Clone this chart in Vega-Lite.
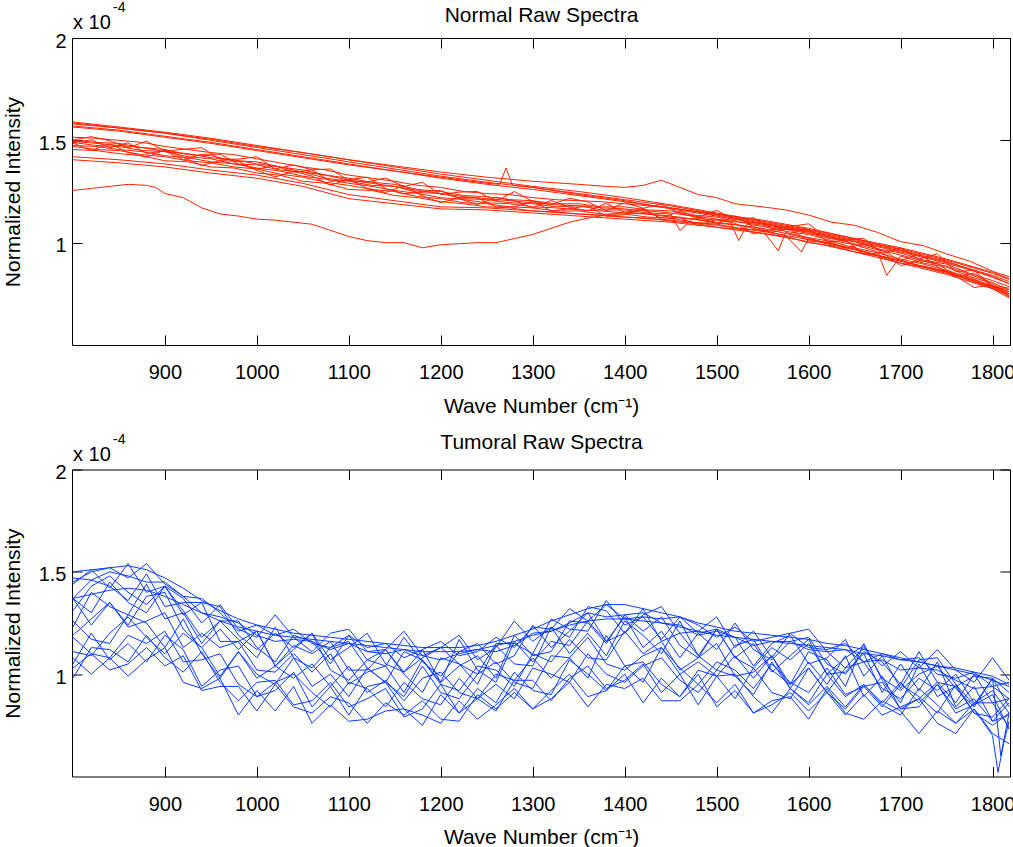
{
"$schema":"https://vega.github.io/schema/vega-lite/v6.json",
"padding":{"left":2,"top":1,"right":4,"bottom":2},
"spacing":15.5,
"config":{"font":"Liberation Sans","view":{"stroke":null},
"axis":{"labelFont":"Liberation Sans","labelFontSize":20,"labelColor":"#000","titleFont":"Liberation Sans","titleFontSize":21,"titleFontWeight":"normal","titleColor":"#000","domainColor":"#000","tickColor":"#000","grid":false,"tickSize":-10,"labelFlush":false,"labelOverlap":false},
"text":{"font":"Liberation Sans","color":"#000"}},
"datasets":{
"normal":[
{"s":"U1","x":800,"y":1.59},{"s":"U1","x":850,"y":1.565},{"s":"U1","x":900,"y":1.54},{"s":"U1","x":950,"y":1.51},{"s":"U1","x":1000,"y":1.475},{"s":"U1","x":1050,"y":1.44},{"s":"U1","x":1100,"y":1.405},{"s":"U1","x":1150,"y":1.37},{"s":"U1","x":1200,"y":1.335},{"s":"U1","x":1250,"y":1.305},{"s":"U1","x":1300,"y":1.275},{"s":"U1","x":1350,"y":1.25},{"s":"U1","x":1400,"y":1.22},{"s":"U1","x":1450,"y":1.185},{"s":"U1","x":1500,"y":1.145},{"s":"U1","x":1550,"y":1.105},{"s":"U1","x":1600,"y":1.065},{"s":"U1","x":1650,"y":1.02},{"s":"U1","x":1700,"y":0.975},{"s":"U1","x":1750,"y":0.92},{"s":"U1","x":1800,"y":0.855},{"s":"U1","x":1818,"y":0.825},
{"s":"U2","x":800,"y":1.58},{"s":"U2","x":850,"y":1.56},{"s":"U2","x":900,"y":1.535},{"s":"U2","x":950,"y":1.5},{"s":"U2","x":1000,"y":1.465},{"s":"U2","x":1050,"y":1.43},{"s":"U2","x":1100,"y":1.395},{"s":"U2","x":1150,"y":1.36},{"s":"U2","x":1200,"y":1.325},{"s":"U2","x":1250,"y":1.295},{"s":"U2","x":1300,"y":1.27},{"s":"U2","x":1350,"y":1.24},{"s":"U2","x":1400,"y":1.21},{"s":"U2","x":1450,"y":1.18},{"s":"U2","x":1500,"y":1.14},{"s":"U2","x":1550,"y":1.1},{"s":"U2","x":1600,"y":1.06},{"s":"U2","x":1650,"y":1.015},{"s":"U2","x":1700,"y":0.97},{"s":"U2","x":1750,"y":0.915},{"s":"U2","x":1800,"y":0.85},{"s":"U2","x":1818,"y":0.82},
{"s":"U3","x":800,"y":1.57},{"s":"U3","x":850,"y":1.55},{"s":"U3","x":900,"y":1.52},{"s":"U3","x":950,"y":1.49},{"s":"U3","x":1000,"y":1.455},{"s":"U3","x":1050,"y":1.42},{"s":"U3","x":1100,"y":1.385},{"s":"U3","x":1150,"y":1.35},{"s":"U3","x":1200,"y":1.315},{"s":"U3","x":1250,"y":1.285},{"s":"U3","x":1300,"y":1.26},{"s":"U3","x":1350,"y":1.23},{"s":"U3","x":1400,"y":1.2},{"s":"U3","x":1450,"y":1.17},{"s":"U3","x":1500,"y":1.135},{"s":"U3","x":1550,"y":1.095},{"s":"U3","x":1600,"y":1.055},{"s":"U3","x":1650,"y":1.01},{"s":"U3","x":1700,"y":0.96},{"s":"U3","x":1750,"y":0.905},{"s":"U3","x":1800,"y":0.84},{"s":"U3","x":1818,"y":0.81},
{"s":"U4","x":800,"y":1.565},{"s":"U4","x":850,"y":1.545},{"s":"U4","x":900,"y":1.515},{"s":"U4","x":950,"y":1.485},{"s":"U4","x":1000,"y":1.45},{"s":"U4","x":1050,"y":1.415},{"s":"U4","x":1100,"y":1.38},{"s":"U4","x":1150,"y":1.35},{"s":"U4","x":1200,"y":1.32},{"s":"U4","x":1250,"y":1.29},{"s":"U4","x":1264,"y":1.285},{"s":"U4","x":1271,"y":1.365},{"s":"U4","x":1278,"y":1.28},{"s":"U4","x":1300,"y":1.27},{"s":"U4","x":1350,"y":1.235},{"s":"U4","x":1400,"y":1.205},{"s":"U4","x":1450,"y":1.165},{"s":"U4","x":1500,"y":1.13},{"s":"U4","x":1550,"y":1.09},{"s":"U4","x":1600,"y":1.05},{"s":"U4","x":1650,"y":1.005},{"s":"U4","x":1700,"y":0.955},{"s":"U4","x":1750,"y":0.9},{"s":"U4","x":1800,"y":0.835},{"s":"U4","x":1818,"y":0.8},
{"s":"U5","x":800,"y":1.585},{"s":"U5","x":850,"y":1.56},{"s":"U5","x":900,"y":1.535},{"s":"U5","x":950,"y":1.505},{"s":"U5","x":1000,"y":1.47},{"s":"U5","x":1050,"y":1.44},{"s":"U5","x":1100,"y":1.405},{"s":"U5","x":1150,"y":1.375},{"s":"U5","x":1200,"y":1.345},{"s":"U5","x":1250,"y":1.32},{"s":"U5","x":1300,"y":1.3},{"s":"U5","x":1350,"y":1.285},{"s":"U5","x":1380,"y":1.275},{"s":"U5","x":1400,"y":1.27},{"s":"U5","x":1420,"y":1.28},{"s":"U5","x":1440,"y":1.305},{"s":"U5","x":1460,"y":1.27},{"s":"U5","x":1480,"y":1.235},{"s":"U5","x":1500,"y":1.22},{"s":"U5","x":1520,"y":1.19},{"s":"U5","x":1550,"y":1.175},{"s":"U5","x":1575,"y":1.16},{"s":"U5","x":1600,"y":1.135},{"s":"U5","x":1625,"y":1.1},{"s":"U5","x":1650,"y":1.085},{"s":"U5","x":1675,"y":1.05},{"s":"U5","x":1700,"y":1.005},{"s":"U5","x":1725,"y":0.985},{"s":"U5","x":1750,"y":0.945},{"s":"U5","x":1775,"y":0.91},{"s":"U5","x":1800,"y":0.86},{"s":"U5","x":1818,"y":0.834},
{"s":"B1","x":800,"y":1.515},{"s":"B1","x":825,"y":1.51},{"s":"B1","x":850,"y":1.5},{"s":"B1","x":875,"y":1.49},{"s":"B1","x":900,"y":1.47},{"s":"B1","x":925,"y":1.455},{"s":"B1","x":950,"y":1.44},{"s":"B1","x":975,"y":1.43},{"s":"B1","x":1000,"y":1.41},{"s":"B1","x":1025,"y":1.39},{"s":"B1","x":1050,"y":1.37},{"s":"B1","x":1075,"y":1.355},{"s":"B1","x":1100,"y":1.33},{"s":"B1","x":1125,"y":1.315},{"s":"B1","x":1150,"y":1.3},{"s":"B1","x":1175,"y":1.28},{"s":"B1","x":1200,"y":1.27},{"s":"B1","x":1225,"y":1.25},{"s":"B1","x":1250,"y":1.24},{"s":"B1","x":1275,"y":1.235},{"s":"B1","x":1300,"y":1.22},{"s":"B1","x":1325,"y":1.21},{"s":"B1","x":1350,"y":1.205},{"s":"B1","x":1375,"y":1.2},{"s":"B1","x":1400,"y":1.19},{"s":"B1","x":1425,"y":1.18},{"s":"B1","x":1450,"y":1.17},{"s":"B1","x":1475,"y":1.155},{"s":"B1","x":1500,"y":1.14},{"s":"B1","x":1525,"y":1.125},{"s":"B1","x":1550,"y":1.11},{"s":"B1","x":1575,"y":1.09},{"s":"B1","x":1600,"y":1.07},{"s":"B1","x":1625,"y":1.045},{"s":"B1","x":1650,"y":1.02},{"s":"B1","x":1675,"y":0.99},{"s":"B1","x":1700,"y":0.965},{"s":"B1","x":1725,"y":0.935},{"s":"B1","x":1750,"y":0.91},{"s":"B1","x":1775,"y":0.87},{"s":"B1","x":1800,"y":0.83},{"s":"B1","x":1818,"y":0.8},
{"s":"B2","x":800,"y":1.5},{"s":"B2","x":825,"y":1.49},{"s":"B2","x":850,"y":1.485},{"s":"B2","x":875,"y":1.465},{"s":"B2","x":900,"y":1.455},{"s":"B2","x":925,"y":1.43},{"s":"B2","x":950,"y":1.425},{"s":"B2","x":975,"y":1.4},{"s":"B2","x":1000,"y":1.395},{"s":"B2","x":1025,"y":1.37},{"s":"B2","x":1050,"y":1.355},{"s":"B2","x":1075,"y":1.33},{"s":"B2","x":1100,"y":1.315},{"s":"B2","x":1125,"y":1.295},{"s":"B2","x":1150,"y":1.285},{"s":"B2","x":1175,"y":1.26},{"s":"B2","x":1200,"y":1.25},{"s":"B2","x":1225,"y":1.23},{"s":"B2","x":1250,"y":1.225},{"s":"B2","x":1275,"y":1.21},{"s":"B2","x":1300,"y":1.205},{"s":"B2","x":1325,"y":1.19},{"s":"B2","x":1350,"y":1.19},{"s":"B2","x":1375,"y":1.175},{"s":"B2","x":1400,"y":1.175},{"s":"B2","x":1425,"y":1.16},{"s":"B2","x":1450,"y":1.155},{"s":"B2","x":1475,"y":1.135},{"s":"B2","x":1500,"y":1.125},{"s":"B2","x":1525,"y":1.1},{"s":"B2","x":1550,"y":1.095},{"s":"B2","x":1575,"y":1.07},{"s":"B2","x":1600,"y":1.055},{"s":"B2","x":1625,"y":1.025},{"s":"B2","x":1650,"y":1.005},{"s":"B2","x":1675,"y":0.97},{"s":"B2","x":1700,"y":0.95},{"s":"B2","x":1725,"y":0.915},{"s":"B2","x":1750,"y":0.895},{"s":"B2","x":1775,"y":0.85},{"s":"B2","x":1800,"y":0.815},{"s":"B2","x":1818,"y":0.785},
{"s":"B3","x":800,"y":1.49},{"s":"B3","x":825,"y":1.475},{"s":"B3","x":850,"y":1.47},{"s":"B3","x":875,"y":1.45},{"s":"B3","x":900,"y":1.445},{"s":"B3","x":925,"y":1.42},{"s":"B3","x":950,"y":1.41},{"s":"B3","x":975,"y":1.385},{"s":"B3","x":1000,"y":1.38},{"s":"B3","x":1025,"y":1.355},{"s":"B3","x":1050,"y":1.345},{"s":"B3","x":1075,"y":1.315},{"s":"B3","x":1100,"y":1.3},{"s":"B3","x":1125,"y":1.28},{"s":"B3","x":1150,"y":1.275},{"s":"B3","x":1175,"y":1.245},{"s":"B3","x":1200,"y":1.24},{"s":"B3","x":1225,"y":1.215},{"s":"B3","x":1250,"y":1.21},{"s":"B3","x":1275,"y":1.195},{"s":"B3","x":1300,"y":1.19},{"s":"B3","x":1325,"y":1.175},{"s":"B3","x":1350,"y":1.18},{"s":"B3","x":1375,"y":1.16},{"s":"B3","x":1400,"y":1.16},{"s":"B3","x":1425,"y":1.145},{"s":"B3","x":1450,"y":1.14},{"s":"B3","x":1460,"y":1.06},{"s":"B3","x":1475,"y":1.12},{"s":"B3","x":1500,"y":1.11},{"s":"B3","x":1515,"y":1.1},{"s":"B3","x":1524,"y":1.01},{"s":"B3","x":1533,"y":1.09},{"s":"B3","x":1550,"y":1.08},{"s":"B3","x":1575,"y":1.055},{"s":"B3","x":1600,"y":1.04},{"s":"B3","x":1625,"y":1.01},{"s":"B3","x":1650,"y":0.99},{"s":"B3","x":1675,"y":0.955},{"s":"B3","x":1685,"y":0.84},{"s":"B3","x":1700,"y":0.935},{"s":"B3","x":1725,"y":0.9},{"s":"B3","x":1750,"y":0.88},{"s":"B3","x":1775,"y":0.835},{"s":"B3","x":1800,"y":0.8},{"s":"B3","x":1818,"y":0.75},
{"s":"B4","x":800,"y":1.475},{"s":"B4","x":825,"y":1.47},{"s":"B4","x":850,"y":1.455},{"s":"B4","x":875,"y":1.445},{"s":"B4","x":900,"y":1.425},{"s":"B4","x":925,"y":1.415},{"s":"B4","x":950,"y":1.395},{"s":"B4","x":975,"y":1.385},{"s":"B4","x":1000,"y":1.365},{"s":"B4","x":1025,"y":1.35},{"s":"B4","x":1050,"y":1.325},{"s":"B4","x":1075,"y":1.31},{"s":"B4","x":1100,"y":1.29},{"s":"B4","x":1125,"y":1.275},{"s":"B4","x":1150,"y":1.255},{"s":"B4","x":1175,"y":1.24},{"s":"B4","x":1200,"y":1.22},{"s":"B4","x":1225,"y":1.21},{"s":"B4","x":1250,"y":1.195},{"s":"B4","x":1275,"y":1.19},{"s":"B4","x":1300,"y":1.175},{"s":"B4","x":1325,"y":1.17},{"s":"B4","x":1350,"y":1.16},{"s":"B4","x":1375,"y":1.155},{"s":"B4","x":1400,"y":1.145},{"s":"B4","x":1425,"y":1.14},{"s":"B4","x":1450,"y":1.125},{"s":"B4","x":1475,"y":1.115},{"s":"B4","x":1500,"y":1.095},{"s":"B4","x":1525,"y":1.085},{"s":"B4","x":1550,"y":1.06},{"s":"B4","x":1567,"y":0.96},{"s":"B4","x":1575,"y":1.05},{"s":"B4","x":1600,"y":1.025},{"s":"B4","x":1625,"y":1.005},{"s":"B4","x":1650,"y":0.975},{"s":"B4","x":1675,"y":0.95},{"s":"B4","x":1700,"y":0.92},{"s":"B4","x":1725,"y":0.895},{"s":"B4","x":1750,"y":0.865},{"s":"B4","x":1775,"y":0.83},{"s":"B4","x":1800,"y":0.785},{"s":"B4","x":1818,"y":0.76},
{"s":"B5","x":800,"y":1.47},{"s":"B5","x":825,"y":1.455},{"s":"B5","x":850,"y":1.45},{"s":"B5","x":875,"y":1.43},{"s":"B5","x":900,"y":1.42},{"s":"B5","x":925,"y":1.4},{"s":"B5","x":950,"y":1.39},{"s":"B5","x":975,"y":1.37},{"s":"B5","x":1000,"y":1.36},{"s":"B5","x":1025,"y":1.335},{"s":"B5","x":1050,"y":1.32},{"s":"B5","x":1075,"y":1.295},{"s":"B5","x":1100,"y":1.28},{"s":"B5","x":1125,"y":1.26},{"s":"B5","x":1150,"y":1.25},{"s":"B5","x":1175,"y":1.225},{"s":"B5","x":1200,"y":1.215},{"s":"B5","x":1225,"y":1.195},{"s":"B5","x":1250,"y":1.19},{"s":"B5","x":1275,"y":1.175},{"s":"B5","x":1300,"y":1.17},{"s":"B5","x":1325,"y":1.155},{"s":"B5","x":1350,"y":1.155},{"s":"B5","x":1375,"y":1.14},{"s":"B5","x":1400,"y":1.14},{"s":"B5","x":1425,"y":1.125},{"s":"B5","x":1450,"y":1.12},{"s":"B5","x":1475,"y":1.1},{"s":"B5","x":1500,"y":1.09},{"s":"B5","x":1525,"y":1.07},{"s":"B5","x":1550,"y":1.06},{"s":"B5","x":1575,"y":1.035},{"s":"B5","x":1592,"y":0.955},{"s":"B5","x":1600,"y":1.02},{"s":"B5","x":1625,"y":0.99},{"s":"B5","x":1650,"y":0.97},{"s":"B5","x":1675,"y":0.935},{"s":"B5","x":1700,"y":0.915},{"s":"B5","x":1725,"y":0.88},{"s":"B5","x":1750,"y":0.86},{"s":"B5","x":1775,"y":0.815},{"s":"B5","x":1800,"y":0.78},{"s":"B5","x":1818,"y":0.745},
{"s":"B6","x":800,"y":1.455},{"s":"B6","x":825,"y":1.45},{"s":"B6","x":850,"y":1.435},{"s":"B6","x":875,"y":1.425},{"s":"B6","x":900,"y":1.4},{"s":"B6","x":925,"y":1.395},{"s":"B6","x":950,"y":1.37},{"s":"B6","x":975,"y":1.365},{"s":"B6","x":1000,"y":1.34},{"s":"B6","x":1025,"y":1.33},{"s":"B6","x":1050,"y":1.3},{"s":"B6","x":1075,"y":1.29},{"s":"B6","x":1100,"y":1.26},{"s":"B6","x":1125,"y":1.255},{"s":"B6","x":1150,"y":1.23},{"s":"B6","x":1175,"y":1.22},{"s":"B6","x":1200,"y":1.2},{"s":"B6","x":1225,"y":1.19},{"s":"B6","x":1250,"y":1.175},{"s":"B6","x":1275,"y":1.17},{"s":"B6","x":1300,"y":1.155},{"s":"B6","x":1325,"y":1.15},{"s":"B6","x":1350,"y":1.14},{"s":"B6","x":1375,"y":1.135},{"s":"B6","x":1400,"y":1.125},{"s":"B6","x":1425,"y":1.12},{"s":"B6","x":1450,"y":1.105},{"s":"B6","x":1475,"y":1.095},{"s":"B6","x":1500,"y":1.075},{"s":"B6","x":1525,"y":1.065},{"s":"B6","x":1550,"y":1.045},{"s":"B6","x":1575,"y":1.03},{"s":"B6","x":1600,"y":1.0},{"s":"B6","x":1625,"y":0.985},{"s":"B6","x":1650,"y":0.955},{"s":"B6","x":1675,"y":0.935},{"s":"B6","x":1700,"y":0.9},{"s":"B6","x":1725,"y":0.88},{"s":"B6","x":1750,"y":0.85},{"s":"B6","x":1775,"y":0.82},{"s":"B6","x":1800,"y":0.775},{"s":"B6","x":1818,"y":0.73},
{"s":"B7","x":800,"y":1.495},{"s":"B7","x":825,"y":1.485},{"s":"B7","x":850,"y":1.475},{"s":"B7","x":875,"y":1.465},{"s":"B7","x":900,"y":1.445},{"s":"B7","x":925,"y":1.435},{"s":"B7","x":950,"y":1.415},{"s":"B7","x":975,"y":1.405},{"s":"B7","x":1000,"y":1.385},{"s":"B7","x":1025,"y":1.37},{"s":"B7","x":1050,"y":1.345},{"s":"B7","x":1075,"y":1.33},{"s":"B7","x":1100,"y":1.305},{"s":"B7","x":1125,"y":1.29},{"s":"B7","x":1150,"y":1.275},{"s":"B7","x":1175,"y":1.255},{"s":"B7","x":1200,"y":1.24},{"s":"B7","x":1225,"y":1.225},{"s":"B7","x":1250,"y":1.215},{"s":"B7","x":1275,"y":1.205},{"s":"B7","x":1300,"y":1.195},{"s":"B7","x":1325,"y":1.185},{"s":"B7","x":1350,"y":1.18},{"s":"B7","x":1375,"y":1.17},{"s":"B7","x":1400,"y":1.165},{"s":"B7","x":1425,"y":1.155},{"s":"B7","x":1450,"y":1.145},{"s":"B7","x":1475,"y":1.13},{"s":"B7","x":1500,"y":1.115},{"s":"B7","x":1525,"y":1.1},{"s":"B7","x":1550,"y":1.085},{"s":"B7","x":1575,"y":1.065},{"s":"B7","x":1600,"y":1.045},{"s":"B7","x":1625,"y":1.02},{"s":"B7","x":1650,"y":0.995},{"s":"B7","x":1675,"y":0.965},{"s":"B7","x":1700,"y":0.94},{"s":"B7","x":1725,"y":0.91},{"s":"B7","x":1750,"y":0.885},{"s":"B7","x":1775,"y":0.845},{"s":"B7","x":1800,"y":0.805},{"s":"B7","x":1818,"y":0.77},
{"s":"B8","x":800,"y":1.49},{"s":"B8","x":820,"y":1.502},{"s":"B8","x":840,"y":1.464},{"s":"B8","x":860,"y":1.488},{"s":"B8","x":880,"y":1.436},{"s":"B8","x":900,"y":1.448},{"s":"B8","x":920,"y":1.404},{"s":"B8","x":940,"y":1.432},{"s":"B8","x":960,"y":1.432},{"s":"B8","x":980,"y":1.384},{"s":"B8","x":1000,"y":1.36},{"s":"B8","x":1020,"y":1.376},{"s":"B8","x":1040,"y":1.344},{"s":"B8","x":1060,"y":1.356},{"s":"B8","x":1080,"y":1.3},{"s":"B8","x":1100,"y":1.308},{"s":"B8","x":1120,"y":1.32},{"s":"B8","x":1140,"y":1.264},{"s":"B8","x":1160,"y":1.238},{"s":"B8","x":1180,"y":1.251},{"s":"B8","x":1200,"y":1.255},{"s":"B8","x":1220,"y":1.215},{"s":"B8","x":1240,"y":1.186},{"s":"B8","x":1260,"y":1.222},{"s":"B8","x":1280,"y":1.206},{"s":"B8","x":1300,"y":1.17},{"s":"B8","x":1320,"y":1.206},{"s":"B8","x":1340,"y":1.173},{"s":"B8","x":1360,"y":1.155},{"s":"B8","x":1380,"y":1.192},{"s":"B8","x":1400,"y":1.148},{"s":"B8","x":1420,"y":1.16},{"s":"B8","x":1440,"y":1.12},{"s":"B8","x":1460,"y":1.154},{"s":"B8","x":1480,"y":1.126},{"s":"B8","x":1500,"y":1.094},{"s":"B8","x":1520,"y":1.13},{"s":"B8","x":1540,"y":1.078},{"s":"B8","x":1560,"y":1.052},{"s":"B8","x":1580,"y":1.068},{"s":"B8","x":1600,"y":1.064},{"s":"B8","x":1620,"y":1.008},{"s":"B8","x":1640,"y":0.972},{"s":"B8","x":1660,"y":0.994},{"s":"B8","x":1680,"y":0.963},{"s":"B8","x":1700,"y":0.911},{"s":"B8","x":1720,"y":0.947},{"s":"B8","x":1740,"y":0.882},{"s":"B8","x":1760,"y":0.832},{"s":"B8","x":1780,"y":0.852},{"s":"B8","x":1800,"y":0.784},{"s":"B8","x":1818,"y":0.77},
{"s":"B9","x":800,"y":1.487},{"s":"B9","x":820,"y":1.451},{"s":"B9","x":840,"y":1.483},{"s":"B9","x":860,"y":1.441},{"s":"B9","x":880,"y":1.417},{"s":"B9","x":900,"y":1.453},{"s":"B9","x":920,"y":1.417},{"s":"B9","x":940,"y":1.377},{"s":"B9","x":960,"y":1.401},{"s":"B9","x":980,"y":1.397},{"s":"B9","x":1000,"y":1.353},{"s":"B9","x":1020,"y":1.321},{"s":"B9","x":1040,"y":1.349},{"s":"B9","x":1060,"y":1.325},{"s":"B9","x":1080,"y":1.281},{"s":"B9","x":1100,"y":1.309},{"s":"B9","x":1120,"y":1.265},{"s":"B9","x":1140,"y":1.245},{"s":"B9","x":1160,"y":1.279},{"s":"B9","x":1180,"y":1.228},{"s":"B9","x":1200,"y":1.196},{"s":"B9","x":1220,"y":1.22},{"s":"B9","x":1240,"y":1.219},{"s":"B9","x":1260,"y":1.175},{"s":"B9","x":1280,"y":1.175},{"s":"B9","x":1300,"y":1.203},{"s":"B9","x":1320,"y":1.155},{"s":"B9","x":1340,"y":1.166},{"s":"B9","x":1360,"y":1.18},{"s":"B9","x":1380,"y":1.129},{"s":"B9","x":1400,"y":1.137},{"s":"B9","x":1420,"y":1.169},{"s":"B9","x":1440,"y":1.113},{"s":"B9","x":1460,"y":1.123},{"s":"B9","x":1480,"y":1.083},{"s":"B9","x":1500,"y":1.115},{"s":"B9","x":1520,"y":1.095},{"s":"B9","x":1540,"y":1.043},{"s":"B9","x":1560,"y":1.065},{"s":"B9","x":1580,"y":1.065},{"s":"B9","x":1600,"y":1.009},{"s":"B9","x":1620,"y":1.001},{"s":"B9","x":1640,"y":1.013},{"s":"B9","x":1660,"y":0.943},{"s":"B9","x":1680,"y":0.952},{"s":"B9","x":1700,"y":0.888},{"s":"B9","x":1720,"y":0.912},{"s":"B9","x":1740,"y":0.899},{"s":"B9","x":1760,"y":0.837},{"s":"B9","x":1780,"y":0.781},{"s":"B9","x":1800,"y":0.793},{"s":"B9","x":1818,"y":0.735},
{"s":"B10","x":800,"y":1.502},{"s":"B10","x":820,"y":1.518},{"s":"B10","x":840,"y":1.498},{"s":"B10","x":860,"y":1.464},{"s":"B10","x":880,"y":1.496},{"s":"B10","x":900,"y":1.448},{"s":"B10","x":920,"y":1.456},{"s":"B10","x":940,"y":1.464},{"s":"B10","x":960,"y":1.408},{"s":"B10","x":980,"y":1.408},{"s":"B10","x":1000,"y":1.42},{"s":"B10","x":1020,"y":1.36},{"s":"B10","x":1040,"y":1.38},{"s":"B10","x":1060,"y":1.356},{"s":"B10","x":1080,"y":1.36},{"s":"B10","x":1100,"y":1.304},{"s":"B10","x":1120,"y":1.296},{"s":"B10","x":1140,"y":1.316},{"s":"B10","x":1160,"y":1.274},{"s":"B10","x":1180,"y":1.295},{"s":"B10","x":1200,"y":1.235},{"s":"B10","x":1220,"y":1.247},{"s":"B10","x":1240,"y":1.25},{"s":"B10","x":1260,"y":1.202},{"s":"B10","x":1280,"y":1.25},{"s":"B10","x":1300,"y":1.202},{"s":"B10","x":1320,"y":1.186},{"s":"B10","x":1340,"y":1.217},{"s":"B10","x":1360,"y":1.199},{"s":"B10","x":1380,"y":1.156},{"s":"B10","x":1400,"y":1.196},{"s":"B10","x":1420,"y":1.168},{"s":"B10","x":1440,"y":1.188},{"s":"B10","x":1460,"y":1.142},{"s":"B10","x":1480,"y":1.122},{"s":"B10","x":1500,"y":1.158},{"s":"B10","x":1520,"y":1.11},{"s":"B10","x":1540,"y":1.122},{"s":"B10","x":1560,"y":1.068},{"s":"B10","x":1580,"y":1.08},{"s":"B10","x":1600,"y":1.092},{"s":"B10","x":1620,"y":1.024},{"s":"B10","x":1640,"y":1.012},{"s":"B10","x":1660,"y":1.022},{"s":"B10","x":1680,"y":0.947},{"s":"B10","x":1700,"y":0.975},{"s":"B10","x":1720,"y":0.919},{"s":"B10","x":1740,"y":0.946},{"s":"B10","x":1760,"y":0.86},{"s":"B10","x":1780,"y":0.864},{"s":"B10","x":1800,"y":0.788},{"s":"B10","x":1818,"y":0.778},
{"s":"L1","x":800,"y":1.42},{"s":"L1","x":850,"y":1.405},{"s":"L1","x":900,"y":1.385},{"s":"L1","x":950,"y":1.355},{"s":"L1","x":1000,"y":1.33},{"s":"L1","x":1050,"y":1.29},{"s":"L1","x":1100,"y":1.235},{"s":"L1","x":1150,"y":1.205},{"s":"L1","x":1200,"y":1.175},{"s":"L1","x":1250,"y":1.17},{"s":"L1","x":1300,"y":1.155},{"s":"L1","x":1350,"y":1.14},{"s":"L1","x":1400,"y":1.125},{"s":"L1","x":1450,"y":1.11},{"s":"L1","x":1500,"y":1.085},{"s":"L1","x":1550,"y":1.055},{"s":"L1","x":1600,"y":1.015},{"s":"L1","x":1650,"y":0.965},{"s":"L1","x":1700,"y":0.91},{"s":"L1","x":1750,"y":0.855},{"s":"L1","x":1800,"y":0.785},{"s":"L1","x":1818,"y":0.75},
{"s":"L2","x":800,"y":1.405},{"s":"L2","x":850,"y":1.39},{"s":"L2","x":900,"y":1.37},{"s":"L2","x":950,"y":1.34},{"s":"L2","x":1000,"y":1.315},{"s":"L2","x":1050,"y":1.275},{"s":"L2","x":1100,"y":1.215},{"s":"L2","x":1150,"y":1.19},{"s":"L2","x":1200,"y":1.165},{"s":"L2","x":1250,"y":1.16},{"s":"L2","x":1300,"y":1.145},{"s":"L2","x":1350,"y":1.13},{"s":"L2","x":1400,"y":1.115},{"s":"L2","x":1450,"y":1.1},{"s":"L2","x":1500,"y":1.075},{"s":"L2","x":1550,"y":1.045},{"s":"L2","x":1600,"y":1.005},{"s":"L2","x":1650,"y":0.955},{"s":"L2","x":1700,"y":0.9},{"s":"L2","x":1750,"y":0.845},{"s":"L2","x":1800,"y":0.775},{"s":"L2","x":1818,"y":0.74},
{"s":"O1","x":800,"y":1.255},{"s":"O1","x":820,"y":1.265},{"s":"O1","x":840,"y":1.275},{"s":"O1","x":860,"y":1.285},{"s":"O1","x":880,"y":1.28},{"s":"O1","x":890,"y":1.27},{"s":"O1","x":900,"y":1.24},{"s":"O1","x":920,"y":1.22},{"s":"O1","x":940,"y":1.17},{"s":"O1","x":960,"y":1.14},{"s":"O1","x":980,"y":1.13},{"s":"O1","x":1000,"y":1.115},{"s":"O1","x":1020,"y":1.11},{"s":"O1","x":1040,"y":1.1},{"s":"O1","x":1060,"y":1.09},{"s":"O1","x":1080,"y":1.06},{"s":"O1","x":1100,"y":1.03},{"s":"O1","x":1120,"y":1.01},{"s":"O1","x":1140,"y":1.0},{"s":"O1","x":1160,"y":1.0},{"s":"O1","x":1180,"y":0.975},{"s":"O1","x":1200,"y":0.99},{"s":"O1","x":1220,"y":0.995},{"s":"O1","x":1240,"y":1.0},{"s":"O1","x":1260,"y":1.0},{"s":"O1","x":1280,"y":1.02},{"s":"O1","x":1300,"y":1.04},{"s":"O1","x":1320,"y":1.07},{"s":"O1","x":1340,"y":1.1},{"s":"O1","x":1360,"y":1.12},{"s":"O1","x":1380,"y":1.135},{"s":"O1","x":1400,"y":1.15},{"s":"O1","x":1450,"y":1.13},{"s":"O1","x":1500,"y":1.1},{"s":"O1","x":1550,"y":1.07},{"s":"O1","x":1600,"y":1.02},{"s":"O1","x":1650,"y":0.97},{"s":"O1","x":1700,"y":0.91},{"s":"O1","x":1750,"y":0.86},{"s":"O1","x":1800,"y":0.79},{"s":"O1","x":1818,"y":0.76}
],
"tumor":[
{"s":"H1","x":800,"y":1.5},{"s":"H1","x":820,"y":1.51},{"s":"H1","x":840,"y":1.52},{"s":"H1","x":860,"y":1.53},{"s":"H1","x":880,"y":1.51},{"s":"H1","x":900,"y":1.47},{"s":"H1","x":920,"y":1.42},{"s":"H1","x":940,"y":1.36},{"s":"H1","x":960,"y":1.31},{"s":"H1","x":980,"y":1.27},{"s":"H1","x":1000,"y":1.24},{"s":"H1","x":1020,"y":1.22},{"s":"H1","x":1040,"y":1.2},{"s":"H1","x":1060,"y":1.19},{"s":"H1","x":1080,"y":1.18},{"s":"H1","x":1100,"y":1.17},{"s":"H1","x":1120,"y":1.16},{"s":"H1","x":1140,"y":1.15},{"s":"H1","x":1160,"y":1.14},{"s":"H1","x":1180,"y":1.13},{"s":"H1","x":1200,"y":1.13},{"s":"H1","x":1220,"y":1.13},{"s":"H1","x":1240,"y":1.14},{"s":"H1","x":1260,"y":1.16},{"s":"H1","x":1280,"y":1.19},{"s":"H1","x":1300,"y":1.22},{"s":"H1","x":1320,"y":1.26},{"s":"H1","x":1340,"y":1.29},{"s":"H1","x":1360,"y":1.32},{"s":"H1","x":1380,"y":1.34},{"s":"H1","x":1400,"y":1.34},{"s":"H1","x":1420,"y":1.32},{"s":"H1","x":1440,"y":1.3},{"s":"H1","x":1460,"y":1.28},{"s":"H1","x":1480,"y":1.25},{"s":"H1","x":1500,"y":1.23},{"s":"H1","x":1520,"y":1.21},{"s":"H1","x":1540,"y":1.2},{"s":"H1","x":1560,"y":1.19},{"s":"H1","x":1580,"y":1.18},{"s":"H1","x":1600,"y":1.17},{"s":"H1","x":1620,"y":1.15},{"s":"H1","x":1640,"y":1.14},{"s":"H1","x":1660,"y":1.12},{"s":"H1","x":1680,"y":1.1},{"s":"H1","x":1700,"y":1.08},{"s":"H1","x":1720,"y":1.06},{"s":"H1","x":1740,"y":1.04},{"s":"H1","x":1760,"y":1.02},{"s":"H1","x":1780,"y":1.0},{"s":"H1","x":1800,"y":0.97},{"s":"H1","x":1818,"y":0.94},
{"s":"H2","x":800,"y":1.47},{"s":"H2","x":820,"y":1.46},{"s":"H2","x":840,"y":1.5},{"s":"H2","x":860,"y":1.48},{"s":"H2","x":880,"y":1.45},{"s":"H2","x":900,"y":1.45},{"s":"H2","x":920,"y":1.38},{"s":"H2","x":940,"y":1.3},{"s":"H2","x":960,"y":1.28},{"s":"H2","x":980,"y":1.25},{"s":"H2","x":1000,"y":1.19},{"s":"H2","x":1020,"y":1.16},{"s":"H2","x":1040,"y":1.17},{"s":"H2","x":1060,"y":1.16},{"s":"H2","x":1080,"y":1.12},{"s":"H2","x":1100,"y":1.15},{"s":"H2","x":1120,"y":1.11},{"s":"H2","x":1140,"y":1.1},{"s":"H2","x":1160,"y":1.12},{"s":"H2","x":1180,"y":1.09},{"s":"H2","x":1200,"y":1.07},{"s":"H2","x":1220,"y":1.1},{"s":"H2","x":1240,"y":1.12},{"s":"H2","x":1260,"y":1.11},{"s":"H2","x":1280,"y":1.14},{"s":"H2","x":1300,"y":1.2},{"s":"H2","x":1320,"y":1.21},{"s":"H2","x":1340,"y":1.25},{"s":"H2","x":1360,"y":1.3},{"s":"H2","x":1380,"y":1.28},{"s":"H2","x":1400,"y":1.29},{"s":"H2","x":1420,"y":1.3},{"s":"H2","x":1440,"y":1.25},{"s":"H2","x":1460,"y":1.24},{"s":"H2","x":1480,"y":1.19},{"s":"H2","x":1500,"y":1.21},{"s":"H2","x":1520,"y":1.18},{"s":"H2","x":1540,"y":1.14},{"s":"H2","x":1560,"y":1.16},{"s":"H2","x":1580,"y":1.16},{"s":"H2","x":1600,"y":1.12},{"s":"H2","x":1620,"y":1.11},{"s":"H2","x":1640,"y":1.12},{"s":"H2","x":1660,"y":1.06},{"s":"H2","x":1680,"y":1.07},{"s":"H2","x":1700,"y":1.02},{"s":"H2","x":1720,"y":1.03},{"s":"H2","x":1740,"y":1.02},{"s":"H2","x":1760,"y":0.97},{"s":"H2","x":1780,"y":0.93},{"s":"H2","x":1800,"y":0.94},{"s":"H2","x":1818,"y":0.88},
{"s":"H3","x":800,"y":1.44},{"s":"H3","x":820,"y":1.51},{"s":"H3","x":840,"y":1.42},{"s":"H3","x":860,"y":1.54},{"s":"H3","x":880,"y":1.4},{"s":"H3","x":900,"y":1.43},{"s":"H3","x":920,"y":1.29},{"s":"H3","x":940,"y":1.35},{"s":"H3","x":960,"y":1.33},{"s":"H3","x":980,"y":1.19},{"s":"H3","x":1000,"y":1.12},{"s":"H3","x":1020,"y":1.2},{"s":"H3","x":1040,"y":1.13},{"s":"H3","x":1060,"y":1.2},{"s":"H3","x":1080,"y":1.07},{"s":"H3","x":1100,"y":1.13},{"s":"H3","x":1120,"y":1.2},{"s":"H3","x":1140,"y":1.05},{"s":"H3","x":1160,"y":1.01},{"s":"H3","x":1180,"y":1.08},{"s":"H3","x":1200,"y":1.13},{"s":"H3","x":1220,"y":1.05},{"s":"H3","x":1240,"y":1.0},{"s":"H3","x":1260,"y":1.15},{"s":"H3","x":1280,"y":1.15},{"s":"H3","x":1300,"y":1.1},{"s":"H3","x":1320,"y":1.27},{"s":"H3","x":1340,"y":1.22},{"s":"H3","x":1360,"y":1.21},{"s":"H3","x":1380,"y":1.36},{"s":"H3","x":1400,"y":1.24},{"s":"H3","x":1420,"y":1.28},{"s":"H3","x":1440,"y":1.17},{"s":"H3","x":1460,"y":1.28},{"s":"H3","x":1480,"y":1.2},{"s":"H3","x":1500,"y":1.12},{"s":"H3","x":1520,"y":1.25},{"s":"H3","x":1540,"y":1.12},{"s":"H3","x":1560,"y":1.07},{"s":"H3","x":1580,"y":1.16},{"s":"H3","x":1600,"y":1.18},{"s":"H3","x":1620,"y":1.05},{"s":"H3","x":1640,"y":1.0},{"s":"H3","x":1660,"y":1.11},{"s":"H3","x":1680,"y":1.06},{"s":"H3","x":1700,"y":0.95},{"s":"H3","x":1720,"y":1.11},{"s":"H3","x":1740,"y":0.96},{"s":"H3","x":1760,"y":0.86},{"s":"H3","x":1780,"y":1.0},{"s":"H3","x":1800,"y":0.86},{"s":"H3","x":1818,"y":0.88},
{"s":"H4","x":800,"y":1.37},{"s":"H4","x":820,"y":1.46},{"s":"H4","x":840,"y":1.43},{"s":"H4","x":860,"y":1.36},{"s":"H4","x":880,"y":1.49},{"s":"H4","x":900,"y":1.33},{"s":"H4","x":920,"y":1.35},{"s":"H4","x":940,"y":1.35},{"s":"H4","x":960,"y":1.16},{"s":"H4","x":980,"y":1.16},{"s":"H4","x":1000,"y":1.21},{"s":"H4","x":1020,"y":1.04},{"s":"H4","x":1040,"y":1.14},{"s":"H4","x":1060,"y":1.1},{"s":"H4","x":1080,"y":1.16},{"s":"H4","x":1100,"y":1.02},{"s":"H4","x":1120,"y":1.02},{"s":"H4","x":1140,"y":1.12},{"s":"H4","x":1160,"y":1.01},{"s":"H4","x":1180,"y":1.12},{"s":"H4","x":1200,"y":0.96},{"s":"H4","x":1220,"y":1.04},{"s":"H4","x":1240,"y":1.09},{"s":"H4","x":1260,"y":0.98},{"s":"H4","x":1280,"y":1.19},{"s":"H4","x":1300,"y":1.09},{"s":"H4","x":1320,"y":1.11},{"s":"H4","x":1340,"y":1.26},{"s":"H4","x":1360,"y":1.25},{"s":"H4","x":1380,"y":1.15},{"s":"H4","x":1400,"y":1.29},{"s":"H4","x":1420,"y":1.21},{"s":"H4","x":1440,"y":1.28},{"s":"H4","x":1460,"y":1.14},{"s":"H4","x":1480,"y":1.08},{"s":"H4","x":1500,"y":1.22},{"s":"H4","x":1520,"y":1.08},{"s":"H4","x":1540,"y":1.15},{"s":"H4","x":1560,"y":1.01},{"s":"H4","x":1580,"y":1.09},{"s":"H4","x":1600,"y":1.17},{"s":"H4","x":1620,"y":1.0},{"s":"H4","x":1640,"y":1.01},{"s":"H4","x":1660,"y":1.1},{"s":"H4","x":1680,"y":0.91},{"s":"H4","x":1700,"y":1.05},{"s":"H4","x":1720,"y":0.92},{"s":"H4","x":1740,"y":1.06},{"s":"H4","x":1760,"y":0.84},{"s":"H4","x":1780,"y":0.94},{"s":"H4","x":1800,"y":0.77},{"s":"H4","x":1818,"y":0.8},
{"s":"H5","x":800,"y":1.45},{"s":"H5","x":820,"y":1.5},{"s":"H5","x":840,"y":1.52},{"s":"H5","x":860,"y":1.47},{"s":"H5","x":880,"y":1.54},{"s":"H5","x":900,"y":1.44},{"s":"H5","x":920,"y":1.38},{"s":"H5","x":940,"y":1.37},{"s":"H5","x":960,"y":1.3},{"s":"H5","x":980,"y":1.21},{"s":"H5","x":1000,"y":1.24},{"s":"H5","x":1020,"y":1.19},{"s":"H5","x":1040,"y":1.22},{"s":"H5","x":1060,"y":1.15},{"s":"H5","x":1080,"y":1.13},{"s":"H5","x":1100,"y":1.19},{"s":"H5","x":1120,"y":1.13},{"s":"H5","x":1140,"y":1.15},{"s":"H5","x":1160,"y":1.08},{"s":"H5","x":1180,"y":1.12},{"s":"H5","x":1200,"y":1.16},{"s":"H5","x":1220,"y":1.09},{"s":"H5","x":1240,"y":1.11},{"s":"H5","x":1260,"y":1.18},{"s":"H5","x":1280,"y":1.13},{"s":"H5","x":1300,"y":1.23},{"s":"H5","x":1320,"y":1.22},{"s":"H5","x":1340,"y":1.32},{"s":"H5","x":1360,"y":1.26},{"s":"H5","x":1380,"y":1.34},{"s":"H5","x":1400,"y":1.27},{"s":"H5","x":1420,"y":1.28},{"s":"H5","x":1440,"y":1.27},{"s":"H5","x":1460,"y":1.28},{"s":"H5","x":1480,"y":1.24},{"s":"H5","x":1500,"y":1.18},{"s":"H5","x":1520,"y":1.23},{"s":"H5","x":1540,"y":1.16},{"s":"H5","x":1560,"y":1.18},{"s":"H5","x":1580,"y":1.2},{"s":"H5","x":1600,"y":1.13},{"s":"H5","x":1620,"y":1.12},{"s":"H5","x":1640,"y":1.15},{"s":"H5","x":1660,"y":1.06},{"s":"H5","x":1680,"y":1.1},{"s":"H5","x":1700,"y":1.07},{"s":"H5","x":1720,"y":1.08},{"s":"H5","x":1740,"y":1.0},{"s":"H5","x":1760,"y":0.98},{"s":"H5","x":1780,"y":1.01},{"s":"H5","x":1800,"y":0.94},{"s":"H5","x":1818,"y":0.96},
{"s":"S1","x":800,"y":1.37},{"s":"S1","x":820,"y":1.39},{"s":"S1","x":840,"y":1.41},{"s":"S1","x":860,"y":1.42},{"s":"S1","x":880,"y":1.41},{"s":"S1","x":900,"y":1.38},{"s":"S1","x":920,"y":1.34},{"s":"S1","x":940,"y":1.3},{"s":"S1","x":960,"y":1.26},{"s":"S1","x":980,"y":1.23},{"s":"S1","x":1000,"y":1.21},{"s":"S1","x":1020,"y":1.19},{"s":"S1","x":1040,"y":1.18},{"s":"S1","x":1060,"y":1.17},{"s":"S1","x":1080,"y":1.16},{"s":"S1","x":1100,"y":1.15},{"s":"S1","x":1120,"y":1.14},{"s":"S1","x":1140,"y":1.13},{"s":"S1","x":1160,"y":1.12},{"s":"S1","x":1180,"y":1.11},{"s":"S1","x":1200,"y":1.11},{"s":"S1","x":1220,"y":1.11},{"s":"S1","x":1240,"y":1.12},{"s":"S1","x":1260,"y":1.14},{"s":"S1","x":1280,"y":1.16},{"s":"S1","x":1300,"y":1.19},{"s":"S1","x":1320,"y":1.21},{"s":"S1","x":1340,"y":1.24},{"s":"S1","x":1360,"y":1.26},{"s":"S1","x":1380,"y":1.27},{"s":"S1","x":1400,"y":1.27},{"s":"S1","x":1420,"y":1.26},{"s":"S1","x":1440,"y":1.25},{"s":"S1","x":1460,"y":1.23},{"s":"S1","x":1480,"y":1.21},{"s":"S1","x":1500,"y":1.19},{"s":"S1","x":1520,"y":1.18},{"s":"S1","x":1540,"y":1.17},{"s":"S1","x":1560,"y":1.16},{"s":"S1","x":1580,"y":1.15},{"s":"S1","x":1600,"y":1.14},{"s":"S1","x":1620,"y":1.13},{"s":"S1","x":1640,"y":1.12},{"s":"S1","x":1660,"y":1.1},{"s":"S1","x":1680,"y":1.09},{"s":"S1","x":1700,"y":1.07},{"s":"S1","x":1720,"y":1.06},{"s":"S1","x":1740,"y":1.04},{"s":"S1","x":1760,"y":1.03},{"s":"S1","x":1780,"y":1.01},{"s":"S1","x":1800,"y":0.99},{"s":"S1","x":1818,"y":0.95},
{"s":"M1","x":800,"y":1.37},{"s":"M1","x":820,"y":1.3},{"s":"M1","x":840,"y":1.45},{"s":"M1","x":860,"y":1.35},{"s":"M1","x":880,"y":1.3},{"s":"M1","x":900,"y":1.43},{"s":"M1","x":920,"y":1.31},{"s":"M1","x":940,"y":1.18},{"s":"M1","x":960,"y":1.26},{"s":"M1","x":980,"y":1.26},{"s":"M1","x":1000,"y":1.13},{"s":"M1","x":1020,"y":1.06},{"s":"M1","x":1040,"y":1.19},{"s":"M1","x":1060,"y":1.16},{"s":"M1","x":1080,"y":1.05},{"s":"M1","x":1100,"y":1.19},{"s":"M1","x":1120,"y":1.07},{"s":"M1","x":1140,"y":1.04},{"s":"M1","x":1160,"y":1.18},{"s":"M1","x":1180,"y":1.06},{"s":"M1","x":1200,"y":0.99},{"s":"M1","x":1220,"y":1.11},{"s":"M1","x":1240,"y":1.15},{"s":"M1","x":1260,"y":1.05},{"s":"M1","x":1280,"y":1.09},{"s":"M1","x":1300,"y":1.24},{"s":"M1","x":1320,"y":1.13},{"s":"M1","x":1340,"y":1.21},{"s":"M1","x":1360,"y":1.3},{"s":"M1","x":1380,"y":1.16},{"s":"M1","x":1400,"y":1.2},{"s":"M1","x":1420,"y":1.32},{"s":"M1","x":1440,"y":1.16},{"s":"M1","x":1460,"y":1.2},{"s":"M1","x":1480,"y":1.09},{"s":"M1","x":1500,"y":1.22},{"s":"M1","x":1520,"y":1.18},{"s":"M1","x":1540,"y":1.04},{"s":"M1","x":1560,"y":1.15},{"s":"M1","x":1580,"y":1.19},{"s":"M1","x":1600,"y":1.05},{"s":"M1","x":1620,"y":1.08},{"s":"M1","x":1640,"y":1.17},{"s":"M1","x":1660,"y":0.99},{"s":"M1","x":1680,"y":1.09},{"s":"M1","x":1700,"y":0.93},{"s":"M1","x":1720,"y":1.07},{"s":"M1","x":1740,"y":1.08},{"s":"M1","x":1760,"y":0.95},{"s":"M1","x":1780,"y":0.85},{"s":"M1","x":1800,"y":0.98},{"s":"M1","x":1818,"y":0.84},
{"s":"M2","x":800,"y":1.37},{"s":"M2","x":820,"y":1.24},{"s":"M2","x":840,"y":1.35},{"s":"M2","x":860,"y":1.24},{"s":"M2","x":880,"y":1.38},{"s":"M2","x":900,"y":1.4},{"s":"M2","x":920,"y":1.22},{"s":"M2","x":940,"y":1.13},{"s":"M2","x":960,"y":1.22},{"s":"M2","x":980,"y":1.12},{"s":"M2","x":1000,"y":1.21},{"s":"M2","x":1020,"y":1.04},{"s":"M2","x":1040,"y":1.12},{"s":"M2","x":1060,"y":1.2},{"s":"M2","x":1080,"y":1.02},{"s":"M2","x":1100,"y":0.97},{"s":"M2","x":1120,"y":1.07},{"s":"M2","x":1140,"y":1.12},{"s":"M2","x":1160,"y":1.0},{"s":"M2","x":1180,"y":0.91},{"s":"M2","x":1200,"y":1.08},{"s":"M2","x":1220,"y":1.05},{"s":"M2","x":1240,"y":0.95},{"s":"M2","x":1260,"y":1.14},{"s":"M2","x":1280,"y":1.05},{"s":"M2","x":1300,"y":1.04},{"s":"M2","x":1320,"y":1.23},{"s":"M2","x":1340,"y":1.1},{"s":"M2","x":1360,"y":1.2},{"s":"M2","x":1380,"y":1.09},{"s":"M2","x":1400,"y":1.26},{"s":"M2","x":1420,"y":1.19},{"s":"M2","x":1440,"y":1.1},{"s":"M2","x":1460,"y":1.26},{"s":"M2","x":1480,"y":1.09},{"s":"M2","x":1500,"y":1.02},{"s":"M2","x":1520,"y":1.14},{"s":"M2","x":1540,"y":1.17},{"s":"M2","x":1560,"y":1.02},{"s":"M2","x":1580,"y":0.95},{"s":"M2","x":1600,"y":1.11},{"s":"M2","x":1620,"y":1.07},{"s":"M2","x":1640,"y":0.94},{"s":"M2","x":1660,"y":1.15},{"s":"M2","x":1680,"y":0.97},{"s":"M2","x":1700,"y":0.86},{"s":"M2","x":1720,"y":1.05},{"s":"M2","x":1740,"y":0.89},{"s":"M2","x":1760,"y":0.94},{"s":"M2","x":1780,"y":0.99},{"s":"M2","x":1800,"y":0.98},{"s":"M2","x":1809,"y":0.6},{"s":"M2","x":1818,"y":0.81},
{"s":"M3","x":800,"y":1.19},{"s":"M3","x":820,"y":1.27},{"s":"M3","x":840,"y":1.35},{"s":"M3","x":860,"y":1.23},{"s":"M3","x":880,"y":1.26},{"s":"M3","x":900,"y":1.3},{"s":"M3","x":920,"y":1.13},{"s":"M3","x":940,"y":1.2},{"s":"M3","x":960,"y":1.13},{"s":"M3","x":980,"y":1.16},{"s":"M3","x":1000,"y":1.02},{"s":"M3","x":1020,"y":1.01},{"s":"M3","x":1040,"y":1.1},{"s":"M3","x":1060,"y":1.01},{"s":"M3","x":1080,"y":1.1},{"s":"M3","x":1100,"y":0.95},{"s":"M3","x":1120,"y":1.01},{"s":"M3","x":1140,"y":1.04},{"s":"M3","x":1160,"y":0.91},{"s":"M3","x":1180,"y":1.07},{"s":"M3","x":1200,"y":0.95},{"s":"M3","x":1220,"y":0.92},{"s":"M3","x":1240,"y":1.04},{"s":"M3","x":1260,"y":1.02},{"s":"M3","x":1280,"y":0.94},{"s":"M3","x":1300,"y":1.1},{"s":"M3","x":1320,"y":1.06},{"s":"M3","x":1340,"y":1.17},{"s":"M3","x":1360,"y":1.08},{"s":"M3","x":1380,"y":1.07},{"s":"M3","x":1400,"y":1.21},{"s":"M3","x":1420,"y":1.1},{"s":"M3","x":1440,"y":1.16},{"s":"M3","x":1460,"y":1.02},{"s":"M3","x":1480,"y":1.08},{"s":"M3","x":1500,"y":1.15},{"s":"M3","x":1520,"y":0.99},{"s":"M3","x":1540,"y":1.01},{"s":"M3","x":1560,"y":1.09},{"s":"M3","x":1580,"y":0.93},{"s":"M3","x":1600,"y":1.06},{"s":"M3","x":1620,"y":0.95},{"s":"M3","x":1640,"y":1.09},{"s":"M3","x":1660,"y":0.89},{"s":"M3","x":1680,"y":0.99},{"s":"M3","x":1700,"y":0.83},{"s":"M3","x":1720,"y":0.88},{"s":"M3","x":1740,"y":0.96},{"s":"M3","x":1760,"y":0.94},{"s":"M3","x":1780,"y":0.81},{"s":"M3","x":1800,"y":0.79},{"s":"M3","x":1818,"y":0.88},
{"s":"M4","x":800,"y":1.31},{"s":"M4","x":820,"y":1.43},{"s":"M4","x":840,"y":1.48},{"s":"M4","x":860,"y":1.4},{"s":"M4","x":880,"y":1.34},{"s":"M4","x":900,"y":1.43},{"s":"M4","x":920,"y":1.37},{"s":"M4","x":940,"y":1.25},{"s":"M4","x":960,"y":1.34},{"s":"M4","x":980,"y":1.22},{"s":"M4","x":1000,"y":1.18},{"s":"M4","x":1020,"y":1.29},{"s":"M4","x":1040,"y":1.18},{"s":"M4","x":1060,"y":1.11},{"s":"M4","x":1080,"y":1.2},{"s":"M4","x":1100,"y":1.22},{"s":"M4","x":1120,"y":1.11},{"s":"M4","x":1140,"y":1.12},{"s":"M4","x":1160,"y":1.21},{"s":"M4","x":1180,"y":1.09},{"s":"M4","x":1200,"y":1.13},{"s":"M4","x":1220,"y":1.19},{"s":"M4","x":1240,"y":1.07},{"s":"M4","x":1260,"y":1.13},{"s":"M4","x":1280,"y":1.26},{"s":"M4","x":1300,"y":1.16},{"s":"M4","x":1320,"y":1.23},{"s":"M4","x":1340,"y":1.18},{"s":"M4","x":1360,"y":1.33},{"s":"M4","x":1380,"y":1.31},{"s":"M4","x":1400,"y":1.2},{"s":"M4","x":1420,"y":1.29},{"s":"M4","x":1440,"y":1.33},{"s":"M4","x":1460,"y":1.2},{"s":"M4","x":1480,"y":1.21},{"s":"M4","x":1500,"y":1.28},{"s":"M4","x":1520,"y":1.13},{"s":"M4","x":1540,"y":1.21},{"s":"M4","x":1560,"y":1.08},{"s":"M4","x":1580,"y":1.2},{"s":"M4","x":1600,"y":1.22},{"s":"M4","x":1620,"y":1.11},{"s":"M4","x":1640,"y":1.03},{"s":"M4","x":1660,"y":1.13},{"s":"M4","x":1680,"y":1.04},{"s":"M4","x":1700,"y":1.11},{"s":"M4","x":1720,"y":1.03},{"s":"M4","x":1740,"y":1.12},{"s":"M4","x":1760,"y":1.02},{"s":"M4","x":1780,"y":0.96},{"s":"M4","x":1800,"y":1.08},{"s":"M4","x":1818,"y":0.97},
{"s":"M5","x":800,"y":1.23},{"s":"M5","x":820,"y":1.4},{"s":"M5","x":840,"y":1.33},{"s":"M5","x":860,"y":1.29},{"s":"M5","x":880,"y":1.44},{"s":"M5","x":900,"y":1.27},{"s":"M5","x":920,"y":1.3},{"s":"M5","x":940,"y":1.15},{"s":"M5","x":960,"y":1.26},{"s":"M5","x":980,"y":1.17},{"s":"M5","x":1000,"y":1.08},{"s":"M5","x":1020,"y":1.23},{"s":"M5","x":1040,"y":1.08},{"s":"M5","x":1060,"y":1.03},{"s":"M5","x":1080,"y":1.13},{"s":"M5","x":1100,"y":1.16},{"s":"M5","x":1120,"y":1.03},{"s":"M5","x":1140,"y":0.96},{"s":"M5","x":1160,"y":1.11},{"s":"M5","x":1180,"y":1.07},{"s":"M5","x":1200,"y":0.96},{"s":"M5","x":1220,"y":1.17},{"s":"M5","x":1240,"y":1.02},{"s":"M5","x":1260,"y":0.96},{"s":"M5","x":1280,"y":1.16},{"s":"M5","x":1300,"y":1.06},{"s":"M5","x":1320,"y":1.16},{"s":"M5","x":1340,"y":1.14},{"s":"M5","x":1360,"y":1.26},{"s":"M5","x":1380,"y":1.16},{"s":"M5","x":1400,"y":1.28},{"s":"M5","x":1420,"y":1.13},{"s":"M5","x":1440,"y":1.21},{"s":"M5","x":1460,"y":1.08},{"s":"M5","x":1480,"y":1.2},{"s":"M5","x":1500,"y":1.22},{"s":"M5","x":1520,"y":1.08},{"s":"M5","x":1540,"y":1.03},{"s":"M5","x":1560,"y":1.13},{"s":"M5","x":1580,"y":1.07},{"s":"M5","x":1600,"y":1.15},{"s":"M5","x":1620,"y":1.0},{"s":"M5","x":1640,"y":1.08},{"s":"M5","x":1660,"y":1.14},{"s":"M5","x":1680,"y":0.98},{"s":"M5","x":1700,"y":0.92},{"s":"M5","x":1720,"y":1.0},{"s":"M5","x":1740,"y":1.04},{"s":"M5","x":1760,"y":0.93},{"s":"M5","x":1780,"y":0.84},{"s":"M5","x":1800,"y":0.98},{"s":"M5","x":1818,"y":0.91},
{"s":"M6","x":800,"y":1.26},{"s":"M6","x":820,"y":1.17},{"s":"M6","x":840,"y":1.15},{"s":"M6","x":860,"y":1.29},{"s":"M6","x":880,"y":1.25},{"s":"M6","x":900,"y":1.13},{"s":"M6","x":920,"y":1.27},{"s":"M6","x":940,"y":1.1},{"s":"M6","x":960,"y":0.98},{"s":"M6","x":980,"y":1.11},{"s":"M6","x":1000,"y":0.98},{"s":"M6","x":1020,"y":1.04},{"s":"M6","x":1040,"y":0.98},{"s":"M6","x":1060,"y":1.05},{"s":"M6","x":1080,"y":0.94},{"s":"M6","x":1100,"y":1.04},{"s":"M6","x":1120,"y":0.91},{"s":"M6","x":1140,"y":0.97},{"s":"M6","x":1160,"y":0.87},{"s":"M6","x":1180,"y":0.98},{"s":"M6","x":1200,"y":1.01},{"s":"M6","x":1220,"y":0.91},{"s":"M6","x":1240,"y":0.88},{"s":"M6","x":1260,"y":1.0},{"s":"M6","x":1280,"y":0.97},{"s":"M6","x":1300,"y":1.08},{"s":"M6","x":1320,"y":0.98},{"s":"M6","x":1340,"y":1.08},{"s":"M6","x":1360,"y":1.18},{"s":"M6","x":1380,"y":1.05},{"s":"M6","x":1400,"y":1.02},{"s":"M6","x":1420,"y":1.09},{"s":"M6","x":1440,"y":1.13},{"s":"M6","x":1460,"y":1.03},{"s":"M6","x":1480,"y":0.95},{"s":"M6","x":1500,"y":1.06},{"s":"M6","x":1520,"y":1.02},{"s":"M6","x":1540,"y":0.93},{"s":"M6","x":1560,"y":1.05},{"s":"M6","x":1580,"y":0.96},{"s":"M6","x":1600,"y":0.91},{"s":"M6","x":1620,"y":1.03},{"s":"M6","x":1640,"y":0.9},{"s":"M6","x":1660,"y":0.94},{"s":"M6","x":1680,"y":0.84},{"s":"M6","x":1700,"y":0.95},{"s":"M6","x":1720,"y":0.89},{"s":"M6","x":1740,"y":0.81},{"s":"M6","x":1760,"y":0.95},{"s":"M6","x":1780,"y":0.81},{"s":"M6","x":1800,"y":0.75},{"s":"M6","x":1818,"y":0.81},
{"s":"L1","x":800,"y":1.18},{"s":"L1","x":820,"y":1.1},{"s":"L1","x":840,"y":1.08},{"s":"L1","x":860,"y":1.19},{"s":"L1","x":880,"y":1.15},{"s":"L1","x":900,"y":1.21},{"s":"L1","x":920,"y":1.06},{"s":"L1","x":940,"y":1.07},{"s":"L1","x":960,"y":1.1},{"s":"L1","x":980,"y":0.95},{"s":"L1","x":1000,"y":0.89},{"s":"L1","x":1020,"y":0.96},{"s":"L1","x":1040,"y":1.0},{"s":"L1","x":1060,"y":0.91},{"s":"L1","x":1080,"y":0.84},{"s":"L1","x":1100,"y":0.96},{"s":"L1","x":1120,"y":0.93},{"s":"L1","x":1140,"y":0.84},{"s":"L1","x":1160,"y":0.96},{"s":"L1","x":1180,"y":0.88},{"s":"L1","x":1200,"y":0.85},{"s":"L1","x":1220,"y":0.98},{"s":"L1","x":1240,"y":0.88},{"s":"L1","x":1260,"y":0.95},{"s":"L1","x":1280,"y":0.88},{"s":"L1","x":1300,"y":1.03},{"s":"L1","x":1320,"y":1.0},{"s":"L1","x":1340,"y":0.96},{"s":"L1","x":1360,"y":1.1},{"s":"L1","x":1380,"y":1.0},{"s":"L1","x":1400,"y":0.96},{"s":"L1","x":1420,"y":1.04},{"s":"L1","x":1440,"y":1.08},{"s":"L1","x":1460,"y":0.97},{"s":"L1","x":1480,"y":0.91},{"s":"L1","x":1500,"y":1.02},{"s":"L1","x":1520,"y":0.99},{"s":"L1","x":1540,"y":0.9},{"s":"L1","x":1560,"y":1.06},{"s":"L1","x":1580,"y":0.93},{"s":"L1","x":1600,"y":0.86},{"s":"L1","x":1620,"y":1.0},{"s":"L1","x":1640,"y":0.89},{"s":"L1","x":1660,"y":0.95},{"s":"L1","x":1680,"y":0.86},{"s":"L1","x":1700,"y":0.96},{"s":"L1","x":1720,"y":0.86},{"s":"L1","x":1740,"y":0.95},{"s":"L1","x":1760,"y":0.83},{"s":"L1","x":1780,"y":0.88},{"s":"L1","x":1800,"y":0.77},{"s":"L1","x":1818,"y":0.86},
{"s":"L2","x":800,"y":0.98},{"s":"L2","x":820,"y":1.13},{"s":"L2","x":840,"y":1.12},{"s":"L2","x":860,"y":1.06},{"s":"L2","x":880,"y":1.19},{"s":"L2","x":900,"y":1.08},{"s":"L2","x":920,"y":1.01},{"s":"L2","x":940,"y":1.11},{"s":"L2","x":960,"y":0.96},{"s":"L2","x":980,"y":0.87},{"s":"L2","x":1000,"y":0.96},{"s":"L2","x":1020,"y":0.97},{"s":"L2","x":1040,"y":0.85},{"s":"L2","x":1060,"y":0.87},{"s":"L2","x":1080,"y":0.96},{"s":"L2","x":1100,"y":0.84},{"s":"L2","x":1120,"y":0.88},{"s":"L2","x":1140,"y":0.93},{"s":"L2","x":1160,"y":0.79},{"s":"L2","x":1180,"y":0.83},{"s":"L2","x":1200,"y":0.95},{"s":"L2","x":1220,"y":0.81},{"s":"L2","x":1240,"y":0.88},{"s":"L2","x":1260,"y":0.82},{"s":"L2","x":1280,"y":0.97},{"s":"L2","x":1300,"y":0.97},{"s":"L2","x":1320,"y":0.87},{"s":"L2","x":1340,"y":0.98},{"s":"L2","x":1360,"y":1.04},{"s":"L2","x":1380,"y":0.93},{"s":"L2","x":1400,"y":0.97},{"s":"L2","x":1420,"y":1.05},{"s":"L2","x":1440,"y":0.91},{"s":"L2","x":1460,"y":1.0},{"s":"L2","x":1480,"y":0.85},{"s":"L2","x":1500,"y":0.99},{"s":"L2","x":1520,"y":1.0},{"s":"L2","x":1540,"y":0.89},{"s":"L2","x":1560,"y":0.81},{"s":"L2","x":1580,"y":0.93},{"s":"L2","x":1600,"y":0.85},{"s":"L2","x":1620,"y":0.94},{"s":"L2","x":1640,"y":0.84},{"s":"L2","x":1660,"y":0.95},{"s":"L2","x":1680,"y":0.85},{"s":"L2","x":1700,"y":0.8},{"s":"L2","x":1720,"y":0.93},{"s":"L2","x":1740,"y":0.85},{"s":"L2","x":1760,"y":0.76},{"s":"L2","x":1780,"y":0.86},{"s":"L2","x":1800,"y":0.86},{"s":"L2","x":1818,"y":0.74},
{"s":"L3","x":800,"y":1.03},{"s":"L3","x":820,"y":1.1},{"s":"L3","x":840,"y":1.02},{"s":"L3","x":860,"y":1.05},{"s":"L3","x":880,"y":1.13},{"s":"L3","x":900,"y":1.04},{"s":"L3","x":920,"y":1.09},{"s":"L3","x":940,"y":0.92},{"s":"L3","x":960,"y":0.94},{"s":"L3","x":980,"y":0.94},{"s":"L3","x":1000,"y":0.82},{"s":"L3","x":1020,"y":0.95},{"s":"L3","x":1040,"y":0.84},{"s":"L3","x":1060,"y":0.81},{"s":"L3","x":1080,"y":0.89},{"s":"L3","x":1100,"y":0.86},{"s":"L3","x":1120,"y":0.76},{"s":"L3","x":1140,"y":0.86},{"s":"L3","x":1160,"y":0.8},{"s":"L3","x":1180,"y":0.87},{"s":"L3","x":1200,"y":0.78},{"s":"L3","x":1220,"y":0.77},{"s":"L3","x":1240,"y":0.9},{"s":"L3","x":1260,"y":0.83},{"s":"L3","x":1280,"y":0.91},{"s":"L3","x":1300,"y":0.83},{"s":"L3","x":1320,"y":0.92},{"s":"L3","x":1340,"y":1.0},{"s":"L3","x":1360,"y":0.89},{"s":"L3","x":1380,"y":0.92},{"s":"L3","x":1400,"y":1.0},{"s":"L3","x":1420,"y":0.86},{"s":"L3","x":1440,"y":0.98},{"s":"L3","x":1460,"y":0.89},{"s":"L3","x":1480,"y":1.0},{"s":"L3","x":1500,"y":0.84},{"s":"L3","x":1520,"y":0.92},{"s":"L3","x":1540,"y":0.81},{"s":"L3","x":1560,"y":0.85},{"s":"L3","x":1580,"y":0.91},{"s":"L3","x":1600,"y":0.82},{"s":"L3","x":1620,"y":0.91},{"s":"L3","x":1640,"y":0.8},{"s":"L3","x":1660,"y":0.9},{"s":"L3","x":1680,"y":0.8},{"s":"L3","x":1700,"y":0.84},{"s":"L3","x":1720,"y":0.88},{"s":"L3","x":1740,"y":0.76},{"s":"L3","x":1760,"y":0.71},{"s":"L3","x":1780,"y":0.83},{"s":"L3","x":1800,"y":0.7},{"s":"L3","x":1806,"y":0.52},{"s":"L3","x":1812,"y":0.66},{"s":"L3","x":1818,"y":0.77},
{"s":"L4","x":800,"y":1.11},{"s":"L4","x":820,"y":1.09},{"s":"L4","x":840,"y":1.2},{"s":"L4","x":860,"y":1.28},{"s":"L4","x":880,"y":1.18},{"s":"L4","x":900,"y":1.1},{"s":"L4","x":920,"y":1.2},{"s":"L4","x":940,"y":1.13},{"s":"L4","x":960,"y":0.99},{"s":"L4","x":980,"y":1.11},{"s":"L4","x":1000,"y":1.0},{"s":"L4","x":1020,"y":0.95},{"s":"L4","x":1040,"y":1.08},{"s":"L4","x":1060,"y":0.94},{"s":"L4","x":1080,"y":1.0},{"s":"L4","x":1100,"y":0.89},{"s":"L4","x":1120,"y":1.03},{"s":"L4","x":1140,"y":0.96},{"s":"L4","x":1160,"y":0.89},{"s":"L4","x":1180,"y":1.04},{"s":"L4","x":1200,"y":0.91},{"s":"L4","x":1220,"y":0.88},{"s":"L4","x":1240,"y":1.0},{"s":"L4","x":1260,"y":1.06},{"s":"L4","x":1280,"y":0.96},{"s":"L4","x":1300,"y":0.93},{"s":"L4","x":1320,"y":1.09},{"s":"L4","x":1340,"y":1.08},{"s":"L4","x":1360,"y":0.98},{"s":"L4","x":1380,"y":1.19},{"s":"L4","x":1400,"y":1.04},{"s":"L4","x":1420,"y":0.96},{"s":"L4","x":1440,"y":1.13},{"s":"L4","x":1460,"y":1.0},{"s":"L4","x":1480,"y":1.06},{"s":"L4","x":1500,"y":0.99},{"s":"L4","x":1520,"y":1.09},{"s":"L4","x":1540,"y":0.98},{"s":"L4","x":1560,"y":1.09},{"s":"L4","x":1580,"y":0.95},{"s":"L4","x":1600,"y":1.03},{"s":"L4","x":1620,"y":0.91},{"s":"L4","x":1640,"y":1.03},{"s":"L4","x":1660,"y":1.06},{"s":"L4","x":1680,"y":0.93},{"s":"L4","x":1700,"y":0.88},{"s":"L4","x":1720,"y":0.98},{"s":"L4","x":1740,"y":0.92},{"s":"L4","x":1760,"y":1.0},{"s":"L4","x":1780,"y":0.86},{"s":"L4","x":1800,"y":0.92},{"s":"L4","x":1818,"y":0.81},
{"s":"L5","x":800,"y":1.05},{"s":"L5","x":820,"y":1.2},{"s":"L5","x":840,"y":1.07},{"s":"L5","x":860,"y":1.15},{"s":"L5","x":880,"y":1.06},{"s":"L5","x":900,"y":1.19},{"s":"L5","x":920,"y":1.12},{"s":"L5","x":940,"y":0.94},{"s":"L5","x":960,"y":1.02},{"s":"L5","x":980,"y":1.04},{"s":"L5","x":1000,"y":0.89},{"s":"L5","x":1020,"y":0.92},{"s":"L5","x":1040,"y":1.01},{"s":"L5","x":1060,"y":0.84},{"s":"L5","x":1080,"y":0.94},{"s":"L5","x":1100,"y":0.8},{"s":"L5","x":1120,"y":0.94},{"s":"L5","x":1140,"y":0.96},{"s":"L5","x":1160,"y":0.83},{"s":"L5","x":1180,"y":0.75},{"s":"L5","x":1200,"y":0.9},{"s":"L5","x":1220,"y":0.81},{"s":"L5","x":1240,"y":0.93},{"s":"L5","x":1260,"y":0.86},{"s":"L5","x":1280,"y":1.01},{"s":"L5","x":1300,"y":0.92},{"s":"L5","x":1320,"y":0.9},{"s":"L5","x":1340,"y":1.07},{"s":"L5","x":1360,"y":1.0},{"s":"L5","x":1380,"y":0.92},{"s":"L5","x":1400,"y":1.04},{"s":"L5","x":1420,"y":1.06},{"s":"L5","x":1440,"y":0.95},{"s":"L5","x":1460,"y":0.89},{"s":"L5","x":1480,"y":1.02},{"s":"L5","x":1500,"y":0.99},{"s":"L5","x":1520,"y":0.88},{"s":"L5","x":1540,"y":1.03},{"s":"L5","x":1560,"y":0.91},{"s":"L5","x":1580,"y":0.88},{"s":"L5","x":1600,"y":1.03},{"s":"L5","x":1620,"y":0.91},{"s":"L5","x":1640,"y":0.83},{"s":"L5","x":1660,"y":0.94},{"s":"L5","x":1680,"y":0.96},{"s":"L5","x":1700,"y":0.83},{"s":"L5","x":1720,"y":0.84},{"s":"L5","x":1740,"y":0.95},{"s":"L5","x":1760,"y":0.81},{"s":"L5","x":1780,"y":0.85},{"s":"L5","x":1800,"y":0.9},{"s":"L5","x":1818,"y":0.73},
{"s":"L6","x":800,"y":1.08},{"s":"L6","x":820,"y":1.0},{"s":"L6","x":840,"y":1.08},{"s":"L6","x":860,"y":0.99},{"s":"L6","x":880,"y":1.07},{"s":"L6","x":900,"y":1.13},{"s":"L6","x":920,"y":0.96},{"s":"L6","x":940,"y":0.93},{"s":"L6","x":960,"y":0.98},{"s":"L6","x":980,"y":0.8},{"s":"L6","x":1000,"y":0.92},{"s":"L6","x":1020,"y":0.82},{"s":"L6","x":1040,"y":0.94},{"s":"L6","x":1060,"y":0.76},{"s":"L6","x":1080,"y":0.85},{"s":"L6","x":1100,"y":0.77},{"s":"L6","x":1120,"y":0.78},{"s":"L6","x":1140,"y":0.82},{"s":"L6","x":1160,"y":0.83},{"s":"L6","x":1180,"y":0.8},{"s":"L6","x":1200,"y":0.76},{"s":"L6","x":1220,"y":0.87},{"s":"L6","x":1240,"y":0.78},{"s":"L6","x":1260,"y":0.85},{"s":"L6","x":1280,"y":0.93},{"s":"L6","x":1300,"y":0.83},{"s":"L6","x":1320,"y":0.88},{"s":"L6","x":1340,"y":0.96},{"s":"L6","x":1360,"y":0.84},{"s":"L6","x":1380,"y":0.95},{"s":"L6","x":1400,"y":0.93},{"s":"L6","x":1420,"y":0.98},{"s":"L6","x":1440,"y":0.87},{"s":"L6","x":1460,"y":0.87},{"s":"L6","x":1480,"y":0.95},{"s":"L6","x":1500,"y":0.86},{"s":"L6","x":1520,"y":0.95},{"s":"L6","x":1540,"y":0.81},{"s":"L6","x":1560,"y":0.87},{"s":"L6","x":1580,"y":0.89},{"s":"L6","x":1600,"y":0.78},{"s":"L6","x":1620,"y":0.93},{"s":"L6","x":1640,"y":0.81},{"s":"L6","x":1660,"y":0.78},{"s":"L6","x":1680,"y":0.87},{"s":"L6","x":1700,"y":0.82},{"s":"L6","x":1720,"y":0.71},{"s":"L6","x":1740,"y":0.82},{"s":"L6","x":1760,"y":0.76},{"s":"L6","x":1780,"y":0.83},{"s":"L6","x":1800,"y":0.71},{"s":"L6","x":1818,"y":0.66}
]},
"vconcat":[
{"width":938,"height":307,
"layer":[
{"data":{"name":"normal"},"mark":{"type":"line","color":"#ff2200","strokeWidth":1,"clip":true},
"encoding":{"x":{"field":"x","type":"quantitative","scale":{"domain":[799,1819],"nice":false,"zero":false},"axis":{"orient":"bottom","values":[900,1000,1100,1200,1300,1400,1500,1600,1700,1800],"format":"d","labelPadding":27.5,"title":"Wave Number (cm⁻¹)","titlePadding":12.5}},
"y":{"field":"y","type":"quantitative","scale":{"domain":[0.5,2],"nice":false,"zero":false},"axis":{"orient":"left","values":[1,1.5,2],"format":"~g","labelPadding":16,"labelOffset":3,"title":"Normalized Intensity","titlePadding":15}},
"detail":{"field":"s","type":"nominal"}}},
{"data":{"name":"normal"},"mark":{"type":"point","opacity":0},
"encoding":{"x":{"field":"x","type":"quantitative","axis":{"orient":"top","values":[900,1000,1100,1200,1300,1400,1500,1600,1700,1800],"labels":false,"title":"Normal Raw Spectra","titleBaseline":"alphabetic","titlePadding":16}},
"y":{"field":"y","type":"quantitative","axis":{"orient":"right","values":[1,1.5,2],"labels":false,"title":null}}}},
{"data":{"values":[{}]},"mark":{"type":"text","text":"x 10","align":"left","baseline":"alphabetic","fontSize":20,"dx":1,"dy":-9},
"encoding":{"x":{"datum":799,"type":"quantitative","axis":null},"y":{"datum":2,"type":"quantitative","axis":null}}},
{"data":{"values":[{}]},"mark":{"type":"text","text":"-4","align":"left","baseline":"alphabetic","fontSize":14,"dx":41,"dy":-26},
"encoding":{"x":{"datum":799,"type":"quantitative","axis":null},"y":{"datum":2,"type":"quantitative","axis":null}}}
],
"resolve":{"axis":{"x":"independent","y":"independent"}}},
{"width":938,"height":307,
"layer":[
{"data":{"name":"tumor"},"mark":{"type":"line","color":"#0a3cff","strokeWidth":1,"clip":true},
"encoding":{"x":{"field":"x","type":"quantitative","scale":{"domain":[799,1819],"nice":false,"zero":false},"axis":{"orient":"bottom","values":[900,1000,1100,1200,1300,1400,1500,1600,1700,1800],"format":"d","labelPadding":27.5,"title":"Wave Number (cm⁻¹)","titlePadding":12.5}},
"y":{"field":"y","type":"quantitative","scale":{"domain":[0.5,2],"nice":false,"zero":false},"axis":{"orient":"left","values":[1,1.5,2],"format":"~g","labelPadding":16,"labelOffset":3,"title":"Normalized Intensity","titlePadding":15}},
"detail":{"field":"s","type":"nominal"}}},
{"data":{"name":"tumor"},"mark":{"type":"point","opacity":0},
"encoding":{"x":{"field":"x","type":"quantitative","axis":{"orient":"top","values":[900,1000,1100,1200,1300,1400,1500,1600,1700,1800],"labels":false,"title":"Tumoral Raw Spectra","titleBaseline":"alphabetic","titlePadding":20.5}},
"y":{"field":"y","type":"quantitative","axis":{"orient":"right","values":[1,1.5,2],"labels":false,"title":null}}}},
{"data":{"values":[{}]},"mark":{"type":"text","text":"x 10","align":"left","baseline":"alphabetic","fontSize":20,"dx":1,"dy":-9},
"encoding":{"x":{"datum":799,"type":"quantitative","axis":null},"y":{"datum":2,"type":"quantitative","axis":null}}},
{"data":{"values":[{}]},"mark":{"type":"text","text":"-4","align":"left","baseline":"alphabetic","fontSize":14,"dx":41,"dy":-26},
"encoding":{"x":{"datum":799,"type":"quantitative","axis":null},"y":{"datum":2,"type":"quantitative","axis":null}}}
],
"resolve":{"axis":{"x":"independent","y":"independent"}}}
]}
